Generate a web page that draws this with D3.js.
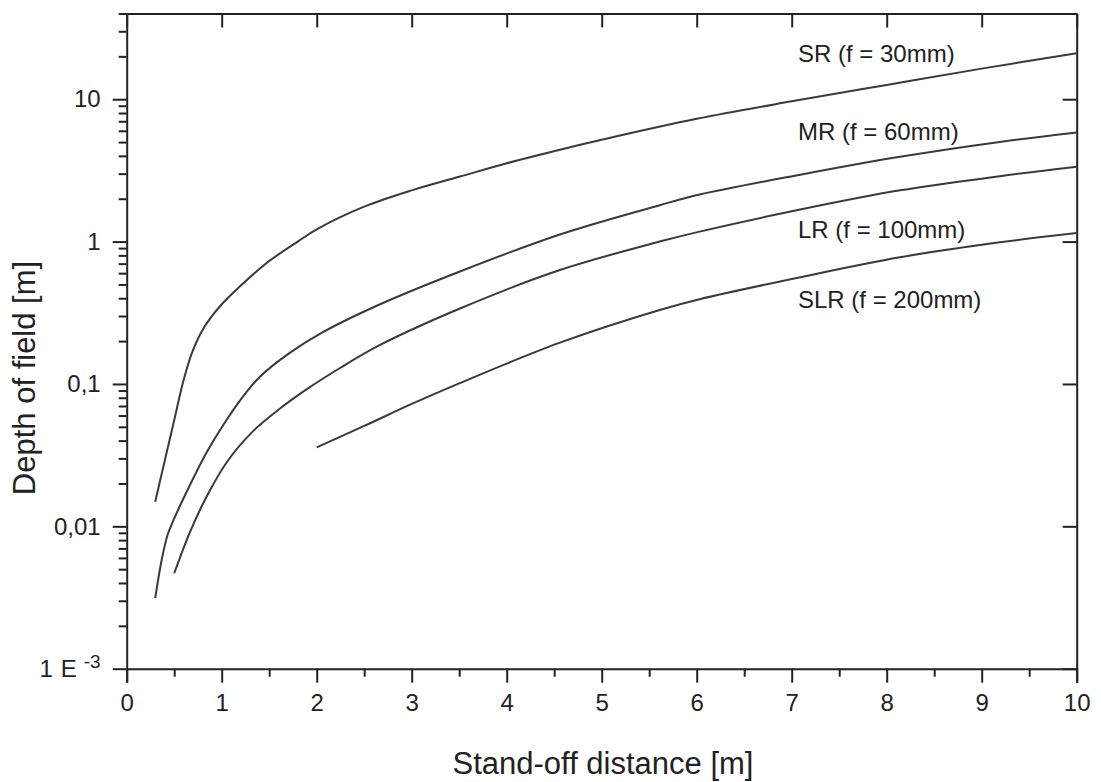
<!DOCTYPE html>
<html>
<head>
<meta charset="utf-8">
<script src="https://cdn.jsdelivr.net/npm/d3@7"></script>
<style>
  html, body { margin: 0; padding: 0; background: #fff; }
  svg { display: block; font-family: "Liberation Sans", Arial, sans-serif; }
</style>
</head>
<body>
<svg id="chart" width="1101" height="782"></svg>
<script>
// Depth of field versus stand-off distance for four lens configurations
const seriesNames = ["SR (f = 30mm)", "MR (f = 60mm)", "LR (f = 100mm)", "SLR (f = 200mm)"];

const distanceSR = [0.3, 0.4, 0.5, 0.6, 0.7, 0.82, 0.98, 1.19, 1.47, 1.8, 2.0, 2.5, 3, 3.5, 4, 4.56, 5, 6, 7, 8, 9, 10];
const dofSR      = [0.0149, 0.0288, 0.0556, 0.107, 0.174, 0.253, 0.350, 0.483, 0.705, 1.0, 1.22, 1.76, 2.29, 2.85, 3.55, 4.42, 5.19, 7.28, 9.66, 12.6, 16.4, 21.0];

const distanceMR = [0.3, 0.37, 0.43, 0.49, 0.666, 0.842, 1.02, 1.2, 1.4, 1.72, 2.07, 2.667, 3.508, 4.56, 5.61, 6.03, 7.09, 8.14, 9.19, 10];
const dofMR      = [0.00313, 0.00590, 0.00870, 0.01096, 0.0195, 0.0331, 0.0519, 0.0776, 0.112, 0.166, 0.232, 0.363, 0.617, 1.122, 1.80, 2.14, 2.95, 3.94, 5.01, 5.83];

const distanceLR = [0.5, 0.666, 0.842, 1.053, 1.333, 1.6, 1.9, 2.25, 2.667, 3.508, 4.56, 5.61, 6.03, 7.09, 8.14, 9.19, 10];
const dofLR      = [0.00468, 0.00912, 0.0162, 0.0282, 0.0468, 0.0661, 0.0923, 0.130, 0.188, 0.339, 0.631, 1.0, 1.175, 1.679, 2.29, 2.88, 3.35];

const distanceSLR = [2.0, 2.5, 3.0, 3.5, 4.56, 5.61, 6.03, 7.09, 8.14, 9.19, 10];
const dofSLR      = [0.0359, 0.0507, 0.0724, 0.101, 0.195, 0.331, 0.394, 0.562, 0.776, 0.989, 1.148];

// label anchor points in data units (distance, depth of field)
const labelX = [7.066, 7.066, 7.066, 7.066];
const labelY = [18.4, 5.18, 1.06, 0.34];

const xTickValues = [0, 1, 2, 3, 4, 5, 6, 7, 8, 9, 10];
const xMinorValues = [0.5, 1.5, 2.5, 3.5, 4.5, 5.5, 6.5, 7.5, 8.5, 9.5];
const yTickValues = [0.001, 0.01, 0.1, 1, 10];
const yTickLabels = ["1 E", "0,01", "0,1", "1", "10"];

const xTitle = "Stand-off distance [m]";
const yTitle = "Depth of field [m]";

const svg = d3.select("#chart");
const W = 1101, H = 782;
const m = { left: 126.7, right: 24.3, top: 13.5, bottom: 113.3 };

const x = d3.scaleLinear().domain([0, 10]).range([m.left, W - m.right]);
const y = d3.scaleLog().domain([0.001, 40]).range([H - m.bottom, m.top]);

const ink = "#222";
const lineInk = "#3a3a3a";

// minor log ticks: 2..9 of each decade, up to 40
const yMinorValues = [];
for (let e = -3; e <= 1; e++) {
  for (let k = 2; k <= 9; k++) {
    const v = k * Math.pow(10, e);
    if (v <= 40 + 1e-9) yMinorValues.push(v);
  }
}

function styleAxis(g) {
  g.selectAll("path.domain").attr("stroke", ink).attr("stroke-width", 2);
  g.selectAll(".tick line").attr("stroke", ink).attr("stroke-width", 2);
  g.selectAll(".tick text").attr("fill", ink).style("font-size", "24px")
    .style("font-family", '"Liberation Sans", Arial, sans-serif');
}

// bottom axis
const gx = svg.append("g").attr("transform", `translate(0,${H - m.bottom})`)
  .call(d3.axisBottom(x).tickValues(xTickValues).tickSize(14).tickPadding(11).tickFormat(d3.format("d")));
styleAxis(gx);
const gxm = svg.append("g").attr("transform", `translate(0,${H - m.bottom})`)
  .call(d3.axisBottom(x).tickValues(xMinorValues).tickSize(8).tickFormat(""));
styleAxis(gxm);
gxm.select("path.domain").remove();

// top axis: inward major ticks
const gt = svg.append("g").attr("transform", `translate(0,${m.top})`)
  .call(d3.axisTop(x).tickValues(xTickValues).tickSize(-14).tickSizeOuter(0).tickFormat(""));
styleAxis(gt);

// left axis
const gy = svg.append("g").attr("transform", `translate(${m.left},0)`)
  .call(d3.axisLeft(y).tickValues(yTickValues).tickSize(14).tickPadding(12).tickSizeOuter(0)
    .tickFormat((d, i) => yTickLabels[i]));
styleAxis(gy);
const gym = svg.append("g").attr("transform", `translate(${m.left},0)`)
  .call(d3.axisLeft(y).tickValues(yMinorValues).tickSize(8).tickFormat(""));
styleAxis(gym);
gym.select("path.domain").remove();

// lowest decade label written as "1 E -3" with a raised exponent
gy.selectAll(".tick").filter(d => d === 0.001).select("text")
  .each(function () {
    const t = d3.select(this);
    t.text(null);
    t.append("tspan").text("1");
    t.append("tspan").attr("dx", 8).text("E");
    t.append("tspan").attr("dx", 7).attr("dy", "-0.45em").style("font-size", "19px").text("-3");
  });

// right axis: inward major ticks
const gr = svg.append("g").attr("transform", `translate(${W - m.right},0)`)
  .call(d3.axisRight(y).tickValues(yTickValues).tickSize(-14).tickSizeOuter(0).tickFormat(""));
styleAxis(gr);

// curves
const line = d3.line().x(d => x(d[0])).y(d => y(d[1])).curve(d3.curveCatmullRom.alpha(0.5));
const series = [
  d3.zip(distanceSR, dofSR),
  d3.zip(distanceMR, dofMR),
  d3.zip(distanceLR, dofLR),
  d3.zip(distanceSLR, dofSLR)
];
svg.append("g").selectAll("path").data(series).join("path")
  .attr("d", line)
  .attr("fill", "none")
  .attr("stroke", lineInk)
  .attr("stroke-width", 2);

// series labels
svg.append("g").selectAll("text").data(seriesNames).join("text")
  .attr("x", (d, i) => x(labelX[i]))
  .attr("y", (d, i) => y(labelY[i]))
  .attr("fill", ink)
  .style("font-size", "24px")
  .text(d => d);

// axis titles
svg.append("text")
  .attr("x", 603)
  .attr("y", 774)
  .attr("text-anchor", "middle")
  .attr("fill", ink)
  .style("font-size", "31px")
  .text(xTitle);

svg.append("text")
  .attr("transform", `translate(35,378) rotate(-90)`)
  .attr("text-anchor", "middle")
  .attr("fill", ink)
  .style("font-size", "31px")
  .text(yTitle);
</script>
</body>
</html>
